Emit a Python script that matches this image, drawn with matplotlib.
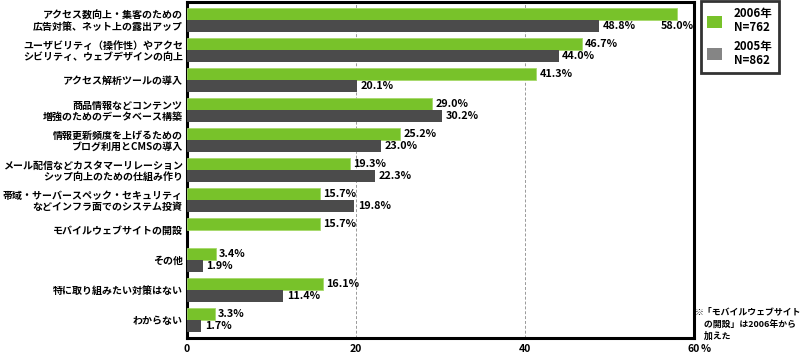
import numpy as np
import matplotlib
matplotlib.use("Agg")
import matplotlib.pyplot as plt
from matplotlib.patches import Patch

plt.rcParams["font.family"] = ["Noto Sans CJK JP", "DejaVu Sans"]
plt.rcParams["font.weight"] = "bold"

# ── Data ─────────────────────────────────────────────────────────────────────
categories = [
    "アクセス数向上・集客のための\n広告対策、ネット上の露出アップ",
    "ユーザビリティ（操作性）やアクセ\nシビリティ、ウェブデザインの向上",
    "アクセス解析ツールの導入",
    "商品情報などコンテンツ\n増強のためのデータベース構築",
    "情報更新頻度を上げるための\nブログ利用とCMSの導入",
    "メール配信などカスタマーリレーション\nシップ向上のための仕組み作り",
    "帯域・サーバースペック・セキュリティ\nなどインフラ面でのシステム投資",
    "モバイルウェブサイトの開設",
    "その他",
    "特に取り組みたい対策はない",
    "わからない",
]
v2006 = [58.0, 46.7, 41.3, 29.0, 25.2, 19.3, 15.7, 15.7, 3.4, 16.1, 3.3]
v2005 = [48.8, 44.0, 20.1, 30.2, 23.0, 22.3, 19.8, np.nan, 1.9, 11.4, 1.7]
series_labels = ["2006年\nN=762", "2005年\nN=862"]
xticks = [0, 20, 40, 60]
note = "※「モバイルウェブサイト\n　の開設」は2006年から\n　加えた"

GREEN = "#78c22a"
DARK = "#4b4b4b"
LEGEND_GRAY = "#858585"

# ── Figure ───────────────────────────────────────────────────────────────────
fig = plt.figure(figsize=(8.0, 3.53), dpi=100)
ax = fig.add_axes([187 / 800, 15 / 353, 507 / 800, 336 / 353])

y = np.arange(len(categories))
h = 0.4
ax.barh(y - 0.2, v2006, height=h, color=GREEN, edgecolor="#a6d96a", linewidth=0.6, zorder=3)
ax.barh(y + 0.2, v2005, height=h, color=DARK, edgecolor="none", zorder=3)

fs_val = 7.8
for i, (a, b) in enumerate(zip(v2006, v2005)):
    if a > 55:
        ax.text(a, i + 0.2, f"{a:.1f}%", ha="center", va="center", fontsize=fs_val,
                fontweight="bold", zorder=4)
    else:
        ax.text(a + 0.4, i - 0.2, f"{a:.1f}%", ha="left", va="center", fontsize=fs_val,
                fontweight="bold", zorder=4)
    if not np.isnan(b):
        ax.text(b + 0.4, i + 0.2, f"{b:.1f}%", ha="left", va="center", fontsize=fs_val,
                fontweight="bold", zorder=4)

ax.set_xlim(0, 60)
ax.set_ylim(len(categories) - 0.4, -0.6)
ax.set_yticks(y)
ax.set_yticklabels(categories, fontsize=7.2, fontweight="bold", linespacing=1.15)
ax.set_xticks(xticks)
ax.set_xticklabels([str(t) for t in xticks], fontsize=7.5, fontweight="bold")
ax.tick_params(length=0)
ax.tick_params(axis="y", pad=3)
ax.tick_params(axis="x", pad=4)
ax.annotate("%", xy=(60, 0), xycoords=("data", "axes fraction"),
            xytext=(4.5, -4), textcoords="offset points", ha="left", va="top",
            fontsize=7.5, fontweight="bold")

for t in xticks[1:-1]:
    ax.axvline(t, color="#999999", linestyle=(0, (3, 2)), linewidth=0.7, zorder=1)

for s in ax.spines.values():
    s.set_linewidth(2.2)
    s.set_color("black")

handles = [Patch(facecolor=GREEN, edgecolor="none"),
           Patch(facecolor=LEGEND_GRAY, edgecolor="none")]
leg = fig.legend(handles, series_labels, loc="upper left",
                 bbox_to_anchor=(701 / 800, 1 - 1 / 353), fontsize=8.3,
                 frameon=True, fancybox=False, edgecolor="black",
                 handlelength=1.3, handleheight=1.3, handletextpad=1.0,
                 labelspacing=0.45, borderpad=0.55, borderaxespad=0)
leg.get_frame().set_linewidth(2.0)
for t in leg.get_texts():
    t.set_fontweight("bold")
    t.set_linespacing(1.1)

fig.text(695 / 800, 1 - 307 / 353, note, ha="left", va="top", fontsize=6.4,
         fontweight="bold", linespacing=1.45)

fig.savefig("out.png", dpi=100)
